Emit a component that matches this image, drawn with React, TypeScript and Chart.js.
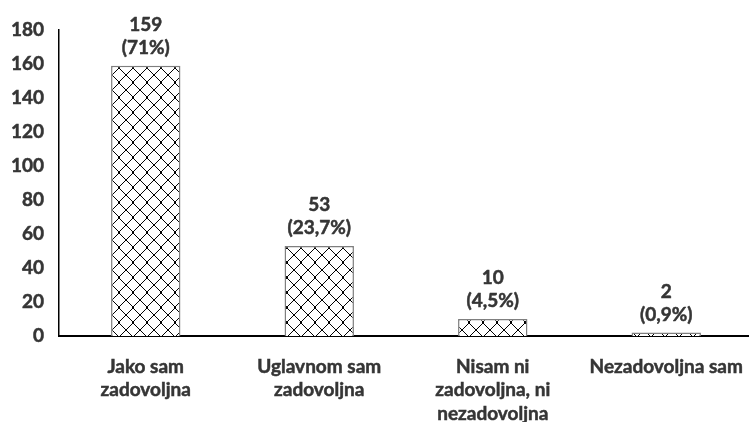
import React, { useEffect, useRef } from "react";
import { Chart, registerables } from "chart.js";

Chart.register(...registerables);

const categories: string[][] = [
  ["Jako sam", "zadovoljna"],
  ["Uglavnom sam", "zadovoljna"],
  ["Nisam ni", "zadovoljna, ni", "nezadovoljna"],
  ["Nezadovoljna sam"],
];
const counts: number[] = [159, 53, 10, 2];
const percents: string[] = ["(71%)", "(23,7%)", "(4,5%)", "(0,9%)"];
const yTicks: number[] = [0, 20, 40, 60, 80, 100, 120, 140, 160, 180];

const TEXT = "#353535";
const FONT_FAMILY = "Lato, 'Liberation Sans', sans-serif";
const FONT_SIZE = 19;
const STROKE = 0.5;

function makePattern(ctx: CanvasRenderingContext2D): CanvasPattern | string {
  const w = 14;
  const h = 15;
  const c = document.createElement("canvas");
  c.width = w;
  c.height = h;
  const g = c.getContext("2d");
  if (!g) return "#fff";
  g.fillStyle = "#ffffff";
  g.fillRect(0, 0, w, h);
  g.fillStyle = "#000000";
  for (let i = 0; i < h; i++) {
    const x = Math.round((i * (w - 1)) / (h - 1));
    g.fillRect(x, i, 1, 1);
    g.fillRect(w - 1 - x, i, 1, 1);
  }
  return ctx.createPattern(c, "repeat") || "#fff";
}

const labelPlugin = {
  id: "barLabels",
  afterDatasetsDraw(chart: any) {
    const ctx = chart.ctx;
    const meta = chart.getDatasetMeta(0);
    ctx.save();
    ctx.fillStyle = TEXT;
    ctx.strokeStyle = TEXT;
    ctx.lineWidth = STROKE;
    ctx.lineJoin = "round";
    ctx.font = `bold ${FONT_SIZE}px ${FONT_FAMILY}`;
    ctx.textAlign = "center";
    ctx.textBaseline = "middle";
    meta.data.forEach((bar: any, i: number) => {
      const t1 = String(counts[i]);
      const t2 = percents[i];
      ctx.strokeText(t1, bar.x, bar.y - 41);
      ctx.fillText(t1, bar.x, bar.y - 41);
      ctx.strokeText(t2, bar.x, bar.y - 18);
      ctx.fillText(t2, bar.x, bar.y - 18);
    });
    ctx.restore();
  },
};

export default function App() {
  const ref = useRef<HTMLCanvasElement | null>(null);
  useEffect(() => {
    const canvas = ref.current;
    if (!canvas) return;
    const ctx = canvas.getContext("2d");
    if (!ctx) return;
    const pattern = makePattern(ctx);
    const chart = new Chart(canvas, {
      type: "bar",
      data: {
        labels: categories,
        datasets: [
          {
            data: counts,
            backgroundColor: pattern as any,
            borderColor: "#7f7f7f",
            borderWidth: 1.5,
            barPercentage: 0.4,
            categoryPercentage: 1,
          },
        ],
      },
      options: {
        animation: false,
        responsive: false,
        events: [],
        layout: { padding: { top: 30, left: 0, right: 0, bottom: 0 } },
        plugins: {
          legend: { display: false },
          tooltip: { enabled: false },
          title: { display: false },
        },
        scales: {
          x: {
            grid: { display: false, drawTicks: false },
            border: { display: true, color: "#000", width: 2 },
            ticks: {
              color: TEXT,
              textStrokeColor: TEXT,
              textStrokeWidth: STROKE,
              font: { family: FONT_FAMILY, size: FONT_SIZE, weight: "bold", lineHeight: 1.24 },
              padding: 19,
              maxRotation: 0,
              autoSkip: false,
            },
            afterFit: (s: any) => {
              s.height = 86;
              s.paddingLeft = 0;
              s.paddingRight = 0;
            },
          },
          y: {
            min: 0,
            max: 180,
            afterBuildTicks: (s: any) => {
              s.ticks = yTicks.map((v) => ({ value: v }));
            },
            grid: { display: false, drawTicks: false },
            border: { display: true, color: "#000", width: 1.5 },
            ticks: {
              color: TEXT,
              textStrokeColor: TEXT,
              textStrokeWidth: STROKE,
              font: { family: FONT_FAMILY, size: FONT_SIZE, weight: "bold" },
              padding: 15,
            },
            afterFit: (s: any) => {
              s.width = 59;
            },
          },
        },
      },
      plugins: [labelPlugin],
    });
    return () => chart.destroy();
  }, []);

  return (
    <div
      style={{
        position: "fixed",
        left: 0,
        top: 0,
        width: 749,
        height: 422,
        overflow: "hidden",
        background: "#fff",
      }}
    >
      <canvas ref={ref} width={753} height={422} style={{ display: "block" }} />
    </div>
  );
}
